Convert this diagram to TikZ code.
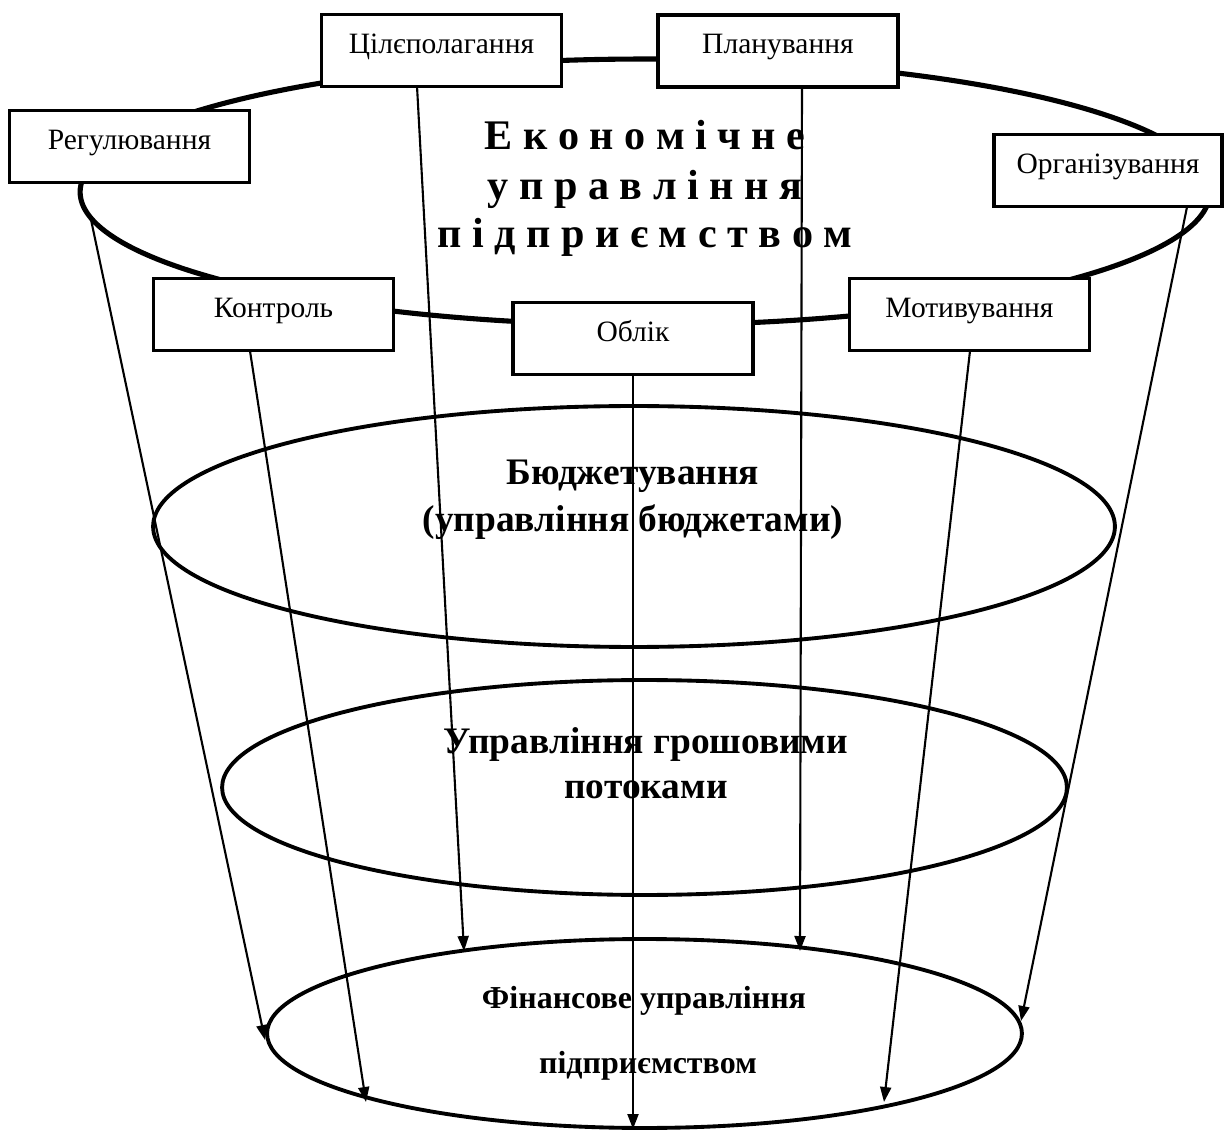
\documentclass[tikz,border=0pt]{standalone}
\usepackage{fontspec}
\setmainfont{Liberation Serif}
\usetikzlibrary{arrows.meta, shapes.geometric}

\begin{document}
\begin{tikzpicture}[
    x=0.02cm, y=-0.02cm,
    >={Triangle[length=0.3cm, width=0.22cm]},
    box/.style={rectangle, draw=black, line width=2.2pt, fill=white, minimum width=#1, minimum height=1.44cm, inner sep=0pt, text height=11pt, text depth=8pt, font=\fontsize{16.8}{19}\selectfont},
    box/.default={4.8cm},
    ring/.style={ellipse, draw=black, line width=2.2pt, inner sep=0pt},
    big/.style={anchor=base, inner sep=0pt, font=\fontsize{21.3}{25}\selectfont\bfseries},
    small/.style={anchor=base, inner sep=0pt, font=\fontsize{18.2}{22}\selectfont\bfseries},
    head/.style={anchor=base, inner sep=0pt, font=\fontsize{24}{28}\selectfont\bfseries},
    arr/.style={->, line width=1.2pt}
]
\useasboundingbox (0,0) rectangle (1224,1131);

% outer ring with the functions on it
\node[ring, line width=2.9pt, minimum width=22.6cm, minimum height=5.32cm] (eco) at (645,192) {};
\node[head] (eco1) at (645,150) {Е к о н о м і ч н е};
\node[head] (eco2) at (645,200) {у п р а в л і н н я};
\node[head] (eco3) at (645,248) {п і д п р и є м с т в о м};

\node[box] (cil) at (441.5,50.5) {Цілєполагання};
\node[box] (plan) at (778,51) {Планування};
\node[box] (reg) at (129.5,146.5) {Регулювання};
\node[box=4.56cm] (org) at (1108,170.5) {Організування};
\node[box] (kon) at (273.5,314.5) {Контроль};
\node[box] (obl) at (633,338.5) {Облік};
\node[box] (mot) at (969.5,314.5) {Мотивування};

% inner rings
\node[ring, minimum width=19.24cm, minimum height=4.82cm] (bud) at (634,526.5) {};
\node[big] (bud1) at (633,485) {Бюджетування};
\node[big] (bud2) at (633,532) {(управління бюджетами)};

\node[ring, minimum width=16.9cm, minimum height=4.3cm] (gro) at (644.5,787.5) {};
\node[big] (gro1) at (646,753) {Управління грошовими};
\node[big] (gro2) at (646,798) {потоками};

\node[ring, minimum width=15.1cm, minimum height=3.78cm] (fin) at (644.5,1033.5) {};
\node[small] (fin1) at (644,1008) {Фінансове управління};
\node[small] (fin2) at (648,1073) {підприємством};

% arrow ends
\coordinate (sreg) at (90,215);
\coordinate (skon) at (250,351);
\coordinate (scil) at (417,86);
\coordinate (sobl) at (633,374);
\coordinate (splan) at (802,87);
\coordinate (smot) at (970,351);
\coordinate (sorg) at (1187,207);
\coordinate (treg) at (265,1040);
\coordinate (tkon) at (366,1102);
\coordinate (tcil) at (464,951);
\coordinate (tobl) at (633,1129);
\coordinate (tplan) at (800,951);
\coordinate (tmot) at (884,1102);
\coordinate (torg) at (1021,1021);

\draw[arr] (sreg) -- (treg);
\draw[arr] (skon) -- (tkon);
\draw[arr] (scil) -- (tcil);
\draw[arr] (sobl) -- (tobl);
\draw[arr] (splan) -- (tplan);
\draw[arr] (smot) -- (tmot);
\draw[arr] (sorg) -- (torg);

\end{tikzpicture}
\end{document}
